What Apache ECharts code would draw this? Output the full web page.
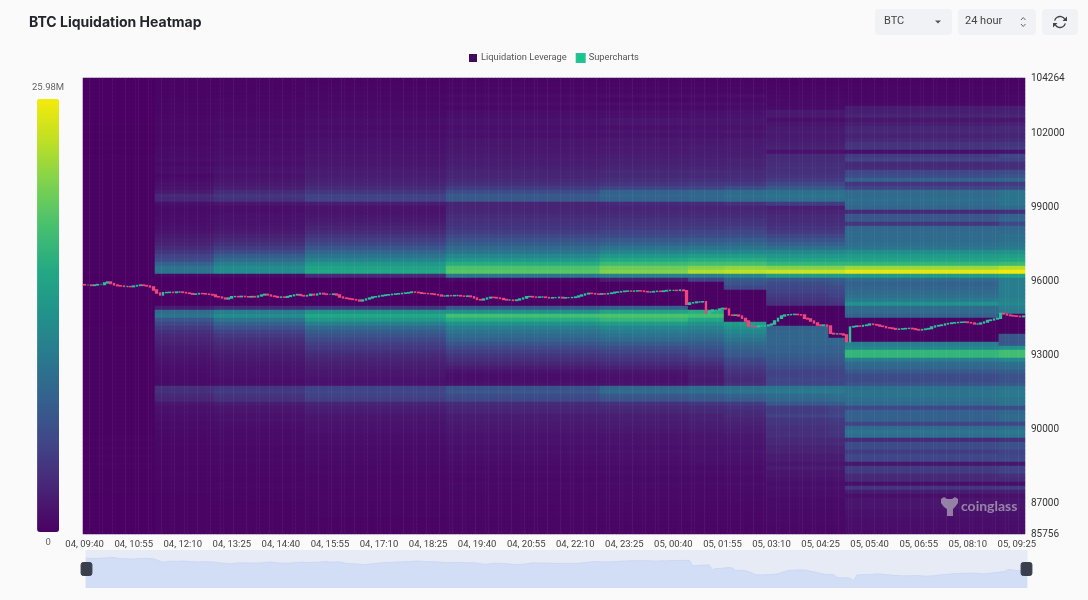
<!DOCTYPE html>
<html><head><meta charset="utf-8">
<style>html,body{margin:0;padding:0;background:#fafafa}#c{width:1088px;height:600px}#c canvas{filter:blur(.6px)}</style>
<script src="https://cdn.jsdelivr.net/npm/echarts@6/dist/echarts.min.js"></script>
</head><body><div id="c"></div>
<script>
const titleText = 'BTC Liquidation Heatmap';
const priceMin = 85756, priceMax = 104264, maxLeverage = 25.98;
const priceTicks = [85756, 87000, 90000, 93000, 96000, 99000, 102000, 104264];
const rowCount = 114, columnCount = 288;
const profileStarts = [0, 22, 40, 68, 111, 158, 185, 196, 209, 228, 233, 280];

const profileA = [
.1,.1,.1,.1,.1,.1,.1,.1,.1,.1,
.1,.2,.1,.2,.1,.2,.1,.2,.1,.2,
.2,.2,.2,.2,.2,.2,.2,.2,.2,.2,
.2,.2,.2,.2,.2,.2,.2,.2,.2,.2,
.2,.2,.2,.2,.2,.2,.2,.2,.2,.1,
.1,.1,.1,.1,.1,.1,.1,.1,.1,.1,
.1,.1,.2,.2,.2,.2,.2,.2,.2,.2,
.2,.2,.2,.2,.2,.2,.2,.2,.2,.2,
.2,.2,.2,.2,.2,.2,.2,.2,.2,.2,
.3,.2,.3,.2,.3,.2,.3,.2,.2,.2,
.2,.2,.2,.2,.1,.1,.1,.1,.1,.1,.1,.1,.1,.1];
const profileB = [
.3,.3,.3,.3,.3,.4,.4,.4,.4,.5,
.5,.7,.5,.7,.5,.7,.6,.8,.8,.8,
1,.7,1,1,.6,.9,1.2,1.4,1.8,3,
2.8,1.1,.8,.8,.9,1,1,1.2,1.4,1.8,
2.2,2.5,3.2,4,5,6,8,10,10,.5,
.1,.1,.1,.1,.1,.1,.1,2,9,10,
7,5.5,4.5,3.6,3,2.7,2.4,2,1.8,1.6,
1.4,1.2,1,1,.9,.8,.8,3.5,3.5,3,
2.8,1.5,1.2,1.2,1,1,.8,.9,.7,.7,
.6,.7,.5,.6,.5,.6,.5,.4,.5,.5,
.4,.4,.4,.4,.3,.3,.3,.3,.3,.3,.3,.3,.3,.3];
const profileC = [
.3,.3,.3,.4,.4,.5,.5,.5,.6,.6,
.8,.8,.7,.9,.7,1,.9,1,1,1.1,
1.2,1,1.3,1.5,1.2,1.5,1.8,2.2,3.2,4,
3.6,1.5,1,1,1.2,1.3,1.4,1.6,1.9,2.4,
2.9,3.5,4.5,5.8,7.5,9,11,12.5,12.5,.8,
.1,.1,.1,.1,.1,.1,.1,3,11,12.5,
10,8,6.5,5,4.2,3.6,3.1,2.7,2.4,2,
1.8,1.6,1.4,1.3,1.2,1,1,4,4.5,3.8,
3.6,2,1.6,1.5,1.2,1.3,1,1,.9,.8,
.8,.8,.6,.7,.6,.7,.6,.5,.6,.5,
.4,.5,.5,.4,.4,.4,.3,.3,.3,.3,.3,.3,.3,.3];
const profileD = [
.3,.3,.4,.4,.6,.4,.7,.5,.8,.8,
1,1,.8,1.1,.9,1.2,1.2,1.3,1.4,1.5,
1.6,1.6,1.8,2,2,2.3,2.6,3.2,4,5,
5,2,1.4,1.4,1.6,1.8,2.2,2.6,3.1,3.9,
4.6,5.5,6.8,8.5,10,11.5,13.5,15,15.5,3,
.1,.1,.1,.1,.1,.1,.1,4,13,15.5,
13.5,11,9,7.5,6.5,5.6,4.8,4.2,3.6,3,
2.6,2.3,2,1.7,1.5,1.3,1.3,5,5.5,5,
4.6,2.6,2.2,2,1.6,1.6,1.4,1.3,1.2,1,
1,1,.8,.9,.8,.8,.7,.6,.7,.6,
.5,.6,.6,.5,.5,.5,.4,.4,.4,.4,.3,.3,.3,.3];
const profileE = [
.3,.4,.5,.4,.8,.5,.9,.6,1,1,
1.3,1.3,1,1.4,1.1,1.6,1.6,1.7,1.7,1.9,
2,2,2.3,2.6,2.6,3,3.4,4.5,6,7.2,
7,2.6,2.6,2.8,3.2,3.5,3.7,4,4.6,5.4,
6.5,7.5,8.8,10,12,13.5,16,18.5,19,10,
.6,.1,.1,.1,.1,.1,.1,7,13,18,
16,13,11,10,9,8,6.8,5.7,4.8,4,
3.4,2.8,2,1.3,1,1,1.2,6.5,7,6,
5.5,3.2,2.8,2.6,2,2,1.8,1.7,1.6,1.3,
1.3,1.3,1,1.2,1,1,.9,.7,.9,.7,
.6,.8,.7,.6,.6,.6,.5,.5,.5,.5,.4,.4,.4,.4];
const profileF = [
.3,.4,.6,.4,.9,.4,1,.7,1.1,1.1,
1.5,1.5,1.1,1.6,1.2,1.8,1.7,1.9,1.9,2.1,
2.3,2.3,2.6,3,2.9,3.4,4,5,8,8.5,
8.2,3,2.6,2.9,3.2,3.7,4,4.4,5,5.8,
7,8.2,9.8,11.5,13.5,15.5,17.5,20,21,11,
2,.1,.1,.1,.1,.1,.1,8,15,18.5,
17,14,12,10.8,9.8,8.8,7.5,6.2,5.2,4.4,
3.8,3.1,2.4,1.6,1.2,1.2,1.4,8.5,9,7,
6.5,3.6,3,2.8,2.2,2.2,2,1.8,1.7,1.4,
1.4,1.4,1.1,1.3,1.1,1.1,1,.8,1,.8,
.7,.9,.8,.7,.7,.7,.6,.6,.5,.5,.5,.4,.4,.4];
const profileG = [
.3,.4,.6,.4,.9,.5,1,.7,1.1,1.2,
1.5,1.5,1.2,1.6,1.3,1.8,1.8,2,2,2.2,
2.4,2.4,2.7,3.1,3,3.5,4.2,5.2,8.5,8.8,
8.5,3.2,2.6,2.9,3.2,3.7,4,4.5,5.2,6,
7.2,8.4,10,12,14,16,18,21,23,11,
5,.2,.2,.2,.2,.2,.2,.2,16,18,
15.5,13,11.5,10.5,9.5,8.5,7.5,6.5,5.8,5,
4.2,3.5,2.8,2.2,2,1.8,2,9,9.5,7.5,
7,4,3.2,3,2.4,2.4,2.2,2,1.8,1.5,
1.5,1.5,1.2,1.4,1.2,1.2,1.1,.8,1,.8,
.7,.9,.8,.7,.7,.7,.6,.6,.5,.5,.5,.4,.4,.4];
const profileH = [
.3,.4,.6,.4,1,.6,1,.8,1.2,1.3,
1.6,1.6,1.2,1.7,1.4,1.9,1.9,2,2,2.2,
2.5,2.5,2.8,3.2,3.1,3.6,4.2,6,9,9.5,
9,3.6,2.6,2.9,3.2,3.7,4,4.6,5.4,6.2,
7.4,8.6,10,12,14,16,18,21.5,23.5,12,
7.5,6.5,5.5,.2,.2,.2,.2,.2,.2,.2,
.2,14,13,12,11,10,9,8.2,7.5,7,
5.8,5,4.4,3.8,3.4,3.2,3.4,9.5,10,8,
7.5,4.4,3.6,3.2,3,2.6,2.4,2.2,2,1.7,
1.6,1.6,1.3,1.5,1.3,1.2,1.1,.9,1.1,.9,
.8,1,.8,.8,.7,.7,.6,.6,.5,.5,.5,.4,.4,.4];
const profileI = [
.3,.3,.4,.5,.6,.7,.7,.8,1.8,1.8,
1,1.6,1.8,2,1.8,2,2.2,2.5,1.2,3,
3.2,3.4,3.5,3.6,3.8,4.5,5.5,7,9.5,10,
9.5,4.5,2.2,2.6,3,3.2,3.4,3.8,4.4,5.4,
6.5,7.8,9.5,12,13.5,15,17,21,24,14,
7,6,5.5,5,4.5,4,3.5,.2,.2,.2,
.2,.2,8,8.5,8.5,8.5,8.5,8,8,7.5,
7,6.5,6,5,5,5.5,5.5,10,10.5,9,
8.5,7,4.5,4.5,5,4,4,3.5,3.5,3.5,
3,3,2.5,2.5,2,2,1.5,2,1.5,1.5,
1.2,1,1.2,1,1,.8,.8,.8,.7,.7,.7,.6,.6,.5];
const profileJ = [
.3,.3,.4,.5,.6,.7,.7,.8,1.8,1.8,
1,1.6,1.8,2,1.8,2,2.2,2.5,1.2,3,
3.2,3.4,3.5,3.6,3.8,4.5,5.5,7,9.5,10,
9.5,4.5,2.2,2.6,3,3.2,3.4,3.8,4.4,5.4,
6.5,7.8,9.5,12,13.5,15,17,21,24,14,
7.5,6.5,6,5.5,5,4.5,4,.2,.2,.2,
.2,.2,.2,.2,.2,8.5,8.5,8,8,7.5,
7,6.5,6,5.2,5.2,5.5,5.5,10,10.5,9.5,
9,7.5,5,5,5.5,4.5,4.2,4,4,3.8,
3,3.2,2.5,2.5,2,2,1.5,2,1.5,1.5,
1.2,1,1.2,1,1,.8,.8,.8,.7,.7,.7,.6,.6,.5];
const profileK = [
.3,.3,.4,.4,.4,.5,.5,2,2.2,2.6,
1.5,2.2,2.8,3,2.4,3,3.8,4,1,4.5,
5,3,3.2,5.5,6,8,4,5,9,9,
9.5,9,8.5,3,7,7,4,8.5,9,9,
9,9.5,10,12.5,14,15,17,22,25.3,14,
9,8,8.5,9,9.5,10.5,13,9,9,8,
.2,.2,.2,.2,.2,.2,11,12,17,17,
11,9,8.5,7,6,6,6.5,9.5,10,10,
9.5,9,5.5,8,8,8,5,9,10,9.5,
3,6,6,4.5,5.5,5.5,1.5,4.5,4.5,3,
3,1,4,2,1,1.5,1.5,1.5,1.2,1.2,1,1,1,.8];
const profileL = [
.3,.3,.4,.4,.5,.6,.6,2.2,2.4,2.8,
1.5,2.4,3,3,2.6,3.2,4,4.4,1.2,5.5,
5,3.4,3.4,6,6.5,8.5,4.5,5.5,10,10,
10,10,9,3.4,8,8.5,5.5,8.5,9,9.5,
9.5,10,10.5,13,14.5,15.5,17.5,23,26,15,
11,11,11,11,11,11.5,12,11,10.5,.2,
.2,.2,.2,.2,7,7,7,13,18,18,
12,9.5,9,7.5,6.5,6.5,7,10,10.5,10.5,
10,10,6,8.5,9,9,5.5,9.5,10.5,10,
3.5,6.5,6.5,5,5.5,6,1.5,5,5,3.5,
3.2,1,4.5,2.2,1.2,1.6,1.6,1.5,1.3,1.2,1.1,1,1,.8];
const profiles = [profileA, profileB, profileC, profileD, profileE, profileF, profileG, profileH, profileI, profileJ, profileK, profileL];

const candleCloses = [
95863,95863,95842,95863,95883,95883,95944,95985,95924,95863,
95834,95822,95802,95802,95793,95822,95842,95863,95842,95822,
95782,95660,95538,95457,95551,95559,95567,95555,95579,95579,
95559,95538,95518,95486,95498,95518,95510,95498,95478,95457,
95388,95376,95335,95295,95335,95388,95396,95384,95404,95388,
95376,95396,95376,95416,95457,95486,95457,95416,95396,95364,
95376,95364,95396,95429,95457,95478,95437,95416,95437,95486,
95457,95498,95526,95498,95478,95478,95498,95457,95376,95335,
95315,95295,95274,95254,95213,95254,95295,95335,95376,95388,
95416,95437,95457,95470,95486,95498,95510,95526,95538,95555,
95579,95567,95551,95526,95518,95510,95498,95478,95457,95416,
95416,95437,95425,95437,95437,95416,95404,95416,95388,95335,
95274,95254,95295,95335,95364,95356,95335,95315,95274,95254,
95254,95234,95254,95295,95335,95388,95396,95376,95364,95376,
95376,95356,95335,95347,95347,95364,95335,95347,95347,95356,
95376,95416,95457,95498,95526,95518,95498,95490,95506,95498,
95518,95538,95567,95579,95595,95611,95619,95611,95619,95627,
95619,95599,95579,95579,95599,95611,95599,95619,95639,95647,
95647,95639,95660,95631,95080,95133,95145,95173,95173,95185,
94713,94806,94848,94848,94888,94917,94888,94645,94632,94645,
94604,94511,94401,94198,94178,94170,94198,94198,94210,94239,
94280,94401,94511,94604,94645,94657,94665,94673,94657,94645,
94511,94482,94401,94320,94239,94218,94239,94198,93902,93874,
93882,93874,93833,93561,94158,94178,94198,94190,94218,94239,
94280,94259,94239,94198,94178,94129,94117,94097,94064,94076,
94085,94097,94105,94085,94056,94036,94056,94076,94097,94158,
94198,94218,94239,94280,94300,94320,94332,94344,94353,94361,
94340,94320,94280,94280,94320,94361,94421,94442,94482,94511,
94714,94685,94645,94616,94604,94591,94575,94604];
const firstOpen = 95880;

// axis categories
const pad = n => String(n).padStart(2, '0');
const timeLabels = [];
for (let i = 0, day = 4, mins = 9 * 60 + 40; i < columnCount; i++, mins += 5) {
  if (mins >= 1440) { mins -= 1440; day++; }
  timeLabels.push(pad(day) + ', ' + pad(Math.floor(mins / 60)) + ':' + pad(mins % 60));
}
const rowLabels = Array.from({length: rowCount}, (_, r) => 'row' + r);

const heatData = [];
for (let c = 0; c < columnCount; c++) {
  let p = 0;
  while (p + 1 < profileStarts.length && profileStarts[p + 1] <= c) p++;
  for (let r = 0; r < rowCount; r++) heatData.push([c, r, profiles[p][r]]);
}
const candleData = candleCloses.map((close, i) => {
  const open = i ? candleCloses[i - 1] : firstOpen;
  return [open, close, Math.min(open, close), Math.max(open, close)];
});

const chart = echarts.init(document.getElementById('c'), null, {renderer: 'canvas'});
const font = 'Roboto, sans-serif';
chart.setOption({
  backgroundColor: '#fafafa',
  animation: false,
  title: {text: titleText, left: 24, top: 11, textStyle: {fontFamily: 'Inter', fontSize: 14, fontWeight: 700, color: '#23252b', letterSpacing: -0.5}},
  legend: {
    top: 48, left: 464, itemWidth: 8, itemHeight: 8, itemGap: 9, selectedMode: false,
    textStyle: {fontFamily: font, fontSize: 9.3, color: '#555', padding: [0, 0, 0, -1]},
    data: [{name: 'Liquidation Leverage', icon: 'rect', itemStyle: {color: '#440a5e'}},
           {name: 'Supercharts', icon: 'rect', itemStyle: {color: '#0ecb81'}}]
  },
  grid: {left: 83, top: 78, width: 942, height: 456},
  xAxis: {
    type: 'category', data: timeLabels, boundaryGap: true,
    axisLine: {show: false}, axisTick: {show: false}, splitLine: {show: false},
    axisLabel: {interval: 14, margin: 6, fontFamily: font, fontSize: 9.5, color: '#444', hideOverlap: false, letterSpacing: 0.3}
  },
  yAxis: [
    {type: 'category', data: rowLabels, inverse: true, show: false, boundaryGap: true},
    {type: 'value', min: priceMin, max: priceMax, position: 'right', splitLine: {show: false},
     axisLine: {show: false}, axisTick: {show: false},
     axisLabel: {customValues: priceTicks, margin: 6, fontFamily: font, fontSize: 10, color: '#333', formatter: v => String(v), letterSpacing: 0.3, showMinLabel: true, showMaxLabel: true}}
  ],
  visualMap: {
    type: 'continuous', seriesIndex: 0, min: 0, max: maxLeverage, left: 17, top: 68,
    itemWidth: 22, itemHeight: 433, text: ['25.98M', '0'], textGap: 6, calculable: false, realtime: false,
    textStyle: {fontFamily: font, fontSize: 9.5, color: '#666'},
    inRange: {color: ['#4a0062', '#482475', '#414487', '#355f8d', '#2a788e', '#21918c', '#22a884', '#44bf70', '#7ad151', '#bddf26', '#f4ea0a']}
  },
  dataZoom: [{
    type: 'slider', xAxisIndex: 0, start: 0, end: 100, left: 83, right: 63, top: 550, height: 38,
    borderColor: 'transparent', backgroundColor: 'rgba(0,0,0,0)', fillerColor: 'rgba(70,110,220,0.10)',
    showDetail: false, showDataShadow: 'auto', brushSelect: false, moveHandleSize: 0,
    handleIcon: 'path://M2,0 H8 A2,2 0 0 1 10,2 V10 A2,2 0 0 1 8,12 H2 A2,2 0 0 1 0,10 V2 A2,2 0 0 1 2,0 Z',
    handleSize: 13, handleStyle: {color: '#3a3f4d', borderColor: '#3a3f4d'},
    dataBackground: {lineStyle: {color: '#dbe4f8', width: 1, opacity: 1}, areaStyle: {color: '#e3eafa', opacity: 1}},
    selectedDataBackground: {lineStyle: {color: '#dbe4f8', width: 1, opacity: 1}, areaStyle: {color: '#e3eafa', opacity: 1}}
  }],
  series: [
    {name: 'Liquidation Leverage', type: 'heatmap', data: heatData, xAxisIndex: 0, yAxisIndex: 0,
     silent: true, progressive: 0, emphasis: {disabled: true}, itemStyle: {borderWidth: 0}},
    {name: 'Supercharts', type: 'candlestick', data: candleData, xAxisIndex: 0, yAxisIndex: 1, barWidth: 2.2, silent: true, z: 5,
     itemStyle: {color: '#2bbf9c', color0: '#f0457c', borderColor: '#2bbf9c', borderColor0: '#f0457c', borderWidth: 1.3}}
  ],
  graphic: [
    {type: 'rect', shape: {x: 875, y: 9, width: 77, height: 26, r: 4}, style: {fill: '#f0f2f5'}},
    {type: 'text', x: 884, y: 16, style: {text: 'BTC', fontFamily: font, fontSize: 11, fill: '#444'}},
    {type: 'polygon', shape: {points: [[935, 20.5], [941, 20.5], [938, 23.5]]}, style: {fill: '#555'}},
    {type: 'rect', shape: {x: 958, y: 9, width: 78, height: 26, r: 4}, style: {fill: '#f0f2f5'}},
    {type: 'text', x: 965, y: 16, style: {text: '24 hour', fontFamily: font, fontSize: 11, fill: '#444'}},
    {type: 'polyline', shape: {points: [[1021, 20], [1023.2, 17.5], [1025.5, 20]]}, style: {stroke: '#666', fill: 'none', lineWidth: 1}},
    {type: 'polyline', shape: {points: [[1021, 24], [1023.2, 26.5], [1025.5, 24]]}, style: {stroke: '#666', fill: 'none', lineWidth: 1}},
    {type: 'rect', shape: {x: 1042, y: 9, width: 36, height: 26, r: 4}, style: {fill: '#f0f2f5'}},
    {type: 'arc', shape: {cx: 1060, cy: 22, r: 5.5, startAngle: -2.9, endAngle: -0.35}, style: {stroke: '#444', fill: 'none', lineWidth: 1.3}},
    {type: 'arc', shape: {cx: 1060, cy: 22, r: 5.5, startAngle: 0.25, endAngle: 2.8}, style: {stroke: '#444', fill: 'none', lineWidth: 1.3}},
    {type: 'polygon', shape: {points: [[1067, 16.5], [1067, 21], [1062.5, 21]]}, style: {fill: '#444'}},
    {type: 'polygon', shape: {points: [[1053, 27.5], [1053, 23], [1057.5, 23]]}, style: {fill: '#444'}},
    {type: 'polygon', z: 20, shape: {points: [[941, 499], [944, 497], [947, 499], [952, 499], [955, 497], [958, 499], [958, 503], [955, 507], [953, 509], [953, 516], [947, 516], [947, 509], [944, 507], [941, 503]]}, style: {fill: 'rgba(200,200,205,0.6)'}},
    {type: 'text', z: 20, x: 961, y: 499, style: {text: 'coinglass', fontFamily: 'Lato, sans-serif', fontSize: 14, fontWeight: 700, letterSpacing: 0.2, fill: 'rgba(200,200,205,0.62)'}}
  ]
});
</script></body></html>
